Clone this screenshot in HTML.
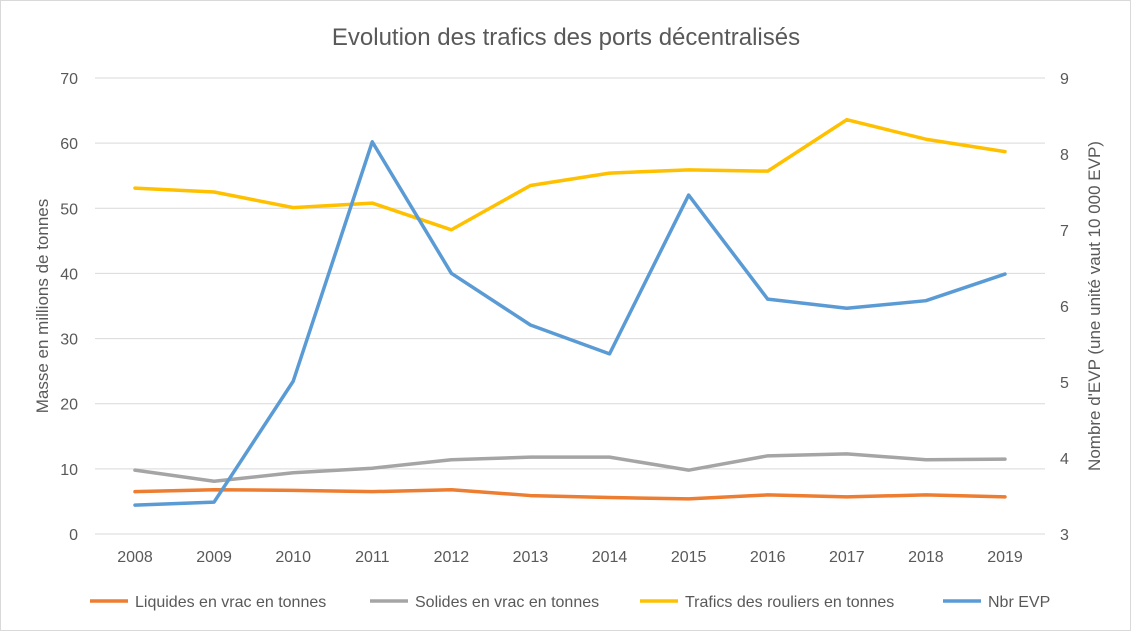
<!DOCTYPE html>
<html><head><meta charset="utf-8">
<style>
body{margin:0;background:#fff;font-family:"Liberation Sans",Arial,sans-serif;}
svg{display:block}
</style></head>
<body>
<svg id="chart" width="1131" height="631" viewBox="0 0 1131 631" xmlns="http://www.w3.org/2000/svg">
<rect x="0.5" y="0.5" width="1130" height="630" fill="#fff" stroke="#d9d9d9"/>
<text x="566" y="45" text-anchor="middle" font-size="24" fill="#595959">Evolution des trafics des ports décentralisés</text>
<g id="grid"></g><g id="series"></g><g id="axes"></g><g id="legend"></g>
</svg>
<script>
const years=["2008","2009","2010","2011","2012","2013","2014","2015","2016","2017","2018","2019"];
const liquides=[6.5,6.8,6.7,6.5,6.8,5.9,5.6,5.4,6.0,5.7,6.0,5.7];
const solides=[9.8,8.1,9.4,10.1,11.4,11.8,11.8,9.8,12.0,12.3,11.4,11.5];
const rouliers=[53.1,52.5,50.1,50.8,46.7,53.5,55.4,55.9,55.7,63.6,60.6,58.7];
const evp=[3.38,3.42,5.01,8.16,6.43,5.75,5.37,7.46,6.09,5.97,6.07,6.42];
const leftTicks=[0,10,20,30,40,50,60,70];
const rightTicks=[3,4,5,6,7,8,9];
const NS="http://www.w3.org/2000/svg";
const X0=135,XS=79.09,Y0=534,Y1=78;
const x=i=>X0+i*XS;
const yL=v=>Y0-(v/70)*(Y0-Y1);
const yR=v=>Y0-((v-3)/6)*(Y0-Y1);
function mk(tag,attrs,parent,text){const e=document.createElementNS(NS,tag);for(const k in attrs)e.setAttribute(k,attrs[k]);if(text!==undefined)e.textContent=text;document.getElementById(parent).appendChild(e);return e;}
leftTicks.forEach(t=>{
  const l=mk("line",{x1:95,x2:1045,y1:yL(t),y2:yL(t),stroke:"#d9d9d9","stroke-width":1},"grid");
  
  
  const tx=mk("text",{x:78,y:yL(t)+6,"text-anchor":"end","font-size":16,fill:"#595959"},"axes",t);
  
  
});
rightTicks.forEach(t=>{
  const tx=mk("text",{x:1060,y:yR(t)+6,"text-anchor":"start","font-size":16,fill:"#595959"},"axes",t);
  
  
});
years.forEach((yv,i)=>{
  const tx=mk("text",{x:x(i),y:562,"text-anchor":"middle","font-size":16,fill:"#595959"},"axes",yv);
  
  
});
const lt=mk("text",{x:0,y:0,"text-anchor":"middle","font-size":17,fill:"#595959",transform:"translate(48,306) rotate(-90)"},"axes","Masse  en millions de tonnes");


const rt=mk("text",{x:0,y:0,"text-anchor":"middle","font-size":17,fill:"#595959",transform:"translate(1100,306) rotate(-90)"},"axes","Nombre d'EVP (une unité vaut 10 000 EVP)");


function line(data,fy,color,name){
  const p=mk("polyline",{points:data.map((v,i)=>x(i)+","+fy(v)).join(" "),fill:"none",stroke:color,"stroke-width":3.5,"stroke-linejoin":"round","stroke-linecap":"round"},"series");
  
  
}
line(liquides,yL,"#ed7d31","liquides-line");
line(solides,yL,"#a5a5a5","solides-line");
line(rouliers,yL,"#ffc000","rouliers-line");
line(evp,yR,"#5b9bd5","evp-line");
const leg=[["Liquides en vrac en tonnes","#ed7d31",90],["Solides en vrac en tonnes","#a5a5a5",370],["Trafics des rouliers en tonnes","#ffc000",640],["Nbr EVP","#5b9bd5",943]];
leg.forEach(([lab,c,lx])=>{
  const g=mk("g",{},"legend");
  
  
  const l=document.createElementNS(NS,"line");
  l.setAttribute("x1",lx);l.setAttribute("x2",lx+38);l.setAttribute("y1",601);l.setAttribute("y2",601);
  l.setAttribute("stroke",c);l.setAttribute("stroke-width",3.5);
  g.appendChild(l);
  const t=document.createElementNS(NS,"text");
  t.setAttribute("x",lx+45);t.setAttribute("y",607);t.setAttribute("font-size",16);t.setAttribute("fill","#595959");
  t.textContent=lab;g.appendChild(t);
});
</script>
</body></html>
